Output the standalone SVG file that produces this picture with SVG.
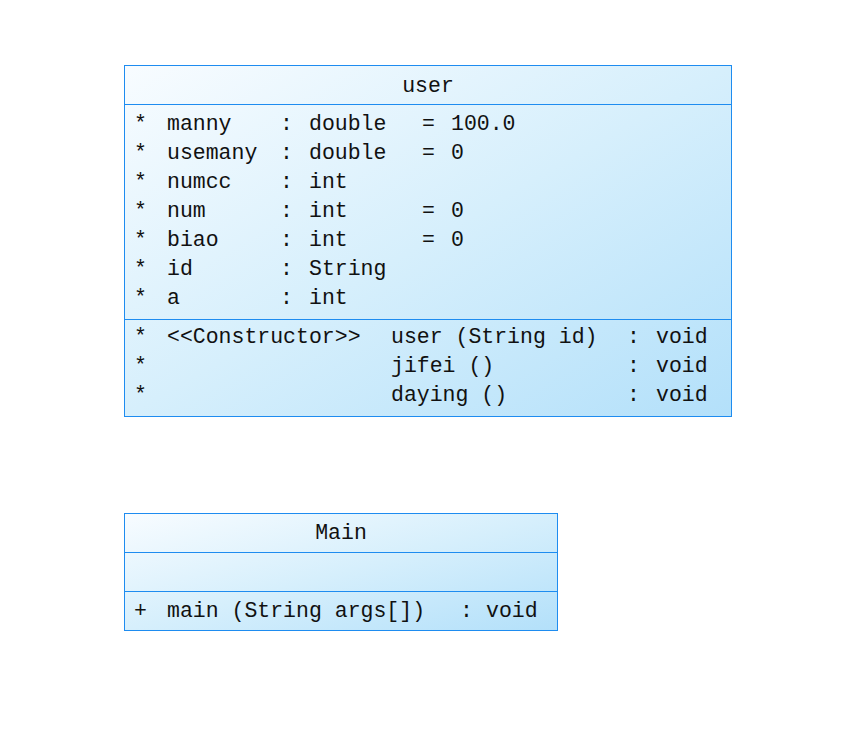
<svg xmlns="http://www.w3.org/2000/svg" width="864" height="755" viewBox="0 0 864 755">
<defs>
<linearGradient id="fill" x1="0" y1="0" x2="1" y2="1">
<stop offset="0" stop-color="#f8fcff"/>
<stop offset="0.5" stop-color="#d6effc"/>
<stop offset="1" stop-color="#b3e0fa"/>
</linearGradient>
<style>
.box{fill:url(#fill);stroke:#1e8cf0;stroke-width:1}
.div{stroke:#1e8cf0;stroke-width:1;fill:none}
text{font-family:"Liberation Mono","DejaVu Sans Mono",monospace;font-size:21.5px;fill:#111}
.c{text-anchor:middle}
</style>
</defs>
<rect width="864" height="755" fill="#ffffff"/>
<g id="user">
<rect class="box" x="124.5" y="65.5" width="607" height="351"/>
<line class="div" x1="124.5" y1="104.5" x2="731.5" y2="104.5"/>
<line class="div" x1="124.5" y1="319.5" x2="731.5" y2="319.5"/>
<text class="c" x="428" y="92">user</text>
<g>
<text x="134" y="130">*</text><text x="167" y="130">manny</text><text x="280" y="130">:</text><text x="309" y="130">double</text><text x="422" y="130">=</text><text x="451" y="130">100.0</text>
<text x="134" y="159">*</text><text x="167" y="159">usemany</text><text x="280" y="159">:</text><text x="309" y="159">double</text><text x="422" y="159">=</text><text x="451" y="159">0</text>
<text x="134" y="188">*</text><text x="167" y="188">numcc</text><text x="280" y="188">:</text><text x="309" y="188">int</text>
<text x="134" y="217">*</text><text x="167" y="217">num</text><text x="280" y="217">:</text><text x="309" y="217">int</text><text x="422" y="217">=</text><text x="451" y="217">0</text>
<text x="134" y="246">*</text><text x="167" y="246">biao</text><text x="280" y="246">:</text><text x="309" y="246">int</text><text x="422" y="246">=</text><text x="451" y="246">0</text>
<text x="134" y="275">*</text><text x="167" y="275">id</text><text x="280" y="275">:</text><text x="309" y="275">String</text>
<text x="134" y="304">*</text><text x="167" y="304">a</text><text x="280" y="304">:</text><text x="309" y="304">int</text>
</g>
<g>
<text x="134" y="343">*</text><text x="167" y="343">&lt;&lt;Constructor&gt;&gt;</text><text x="391" y="343">user (String id)</text><text x="627" y="343">:</text><text x="656" y="343">void</text>
<text x="134" y="372">*</text><text x="391" y="372">jifei ()</text><text x="627" y="372">:</text><text x="656" y="372">void</text>
<text x="134" y="401">*</text><text x="391" y="401">daying ()</text><text x="627" y="401">:</text><text x="656" y="401">void</text>
</g>
</g>
<g id="Main">
<rect class="box" x="124.5" y="513.5" width="433" height="117"/>
<line class="div" x1="124.5" y1="552.5" x2="557.5" y2="552.5"/>
<line class="div" x1="124.5" y1="591.5" x2="557.5" y2="591.5"/>
<text class="c" x="341" y="539">Main</text>
<text x="134" y="617">+</text><text x="167" y="617">main (String args[])</text><text x="460" y="617">:</text><text x="486" y="617">void</text>
</g>
<g id="connectors"></g>
</svg>
